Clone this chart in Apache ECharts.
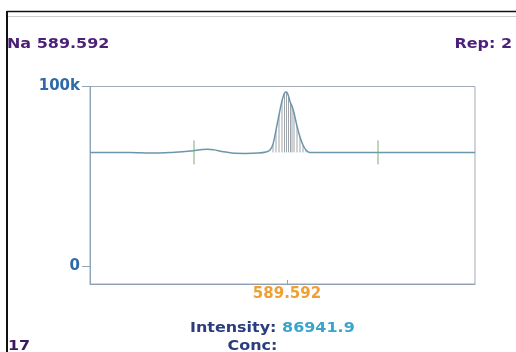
<!DOCTYPE html>
<html>
<head>
<meta charset="utf-8">
<script src="https://cdn.jsdelivr.net/npm/echarts@6/dist/echarts.min.js"></script>
<style>html,body{margin:0;padding:0;background:#fff}#c{width:516px;height:352px}</style>
</head>
<body>
<div id="c"></div>
<script>
// Wavelength (nm) of each trace point
var wavelengths = [589.4935,589.5035,589.5135,589.5235,589.5335,589.541,589.546,589.5495,589.5525,589.5555,589.5595,589.5645,589.571,589.5775,589.5815,589.5835,589.585,589.5865,589.588,589.5895,589.59075,589.59175,589.59275,589.59375,589.5945,589.5955,589.597,589.5985,589.6,589.6015,589.6035,589.6085,589.6185,589.6285,589.6385,589.6485,589.6635,589.6785,589.686];
// Intensity (counts) of each trace point
var intensities = [63400,63300,63300,63000,63300,63900,64400,65000,65200,64800,63900,63000,62800,63000,63600,64700,68000,75800,84200,92000,96400,96900,94700,90800,89200,85300,78000,71900,67500,64700,63300,63300,63300,63400,63400,63300,63300,63400,63400];
// Integration window markers (nm)
var markerWavelengths = [589.5455, 589.6375];
var baselineLevel = 63400;
var peakWindow = [589.585, 589.6015];
var centerWavelength = 589.592;
var yTicks = [0, 100000];
var yTickLabels = {0: '0', 100000: '100k'};
var title = 'Na 589.592';
var repText = 'Rep: 2';
var sampleNo = '17';
var intensityValue = '86941.9';

var FONT = 'DejaVu Sans';
var SX = 1.14;
var trace = wavelengths.map(function (w, i) { return [w, intensities[i]]; });
var hatch = trace.filter(function (p) { return p[0] >= peakWindow[0] && p[0] <= peakWindow[1]; });

var chart = echarts.init(document.getElementById('c'), null, {renderer: 'canvas'});
chart.setOption({
  animation: false,
  backgroundColor: '#fff',
  grid: {left: 90, right: 41, top: 86.5, bottom: 68, show: true, borderColor: '#a2abb4', borderWidth: 1},
  xAxis: {
    type: 'value', min: 589.4935, max: 589.686,
    axisLine: {onZero: false, lineStyle: {color: '#8ea0b2', width: 1}},
    axisTick: {customValues: [centerWavelength], inside: true, length: 4, lineStyle: {color: '#8ea0b2'}},
    axisLabel: {customValues: [centerWavelength], formatter: function () { return '589.592'; },
      color: '#f0a032', fontFamily: FONT, fontWeight: 'bold', fontSize: 15, margin: 3},
    splitLine: {show: false}
  },
  yAxis: {
    type: 'value', min: -9700, max: 100000,
    axisLine: {show: true, lineStyle: {color: '#8ea4b8', width: 1}},
    axisTick: {show: true, customValues: yTicks, length: 8, lineStyle: {color: '#8ea4b8'}},
    axisLabel: {customValues: yTicks, formatter: function (v) { return yTickLabels[v]; },
      color: '#2e6aa6', fontFamily: FONT, fontWeight: 'bold', fontSize: 15, margin: 10},
    splitLine: {show: false}
  },
  series: [
    {
      type: 'custom', data: hatch, silent: true, z: 1,
      renderItem: function (params, api) {
        var top = api.coord([api.value(0), api.value(1)]);
        var bot = api.coord([api.value(0), baselineLevel]);
        return {type: 'line', shape: {x1: top[0], y1: top[1], x2: bot[0], y2: bot[1]},
          style: {stroke: '#a0a5ac', lineWidth: 1}};
      }
    },
    {
      type: 'line', data: trace, symbol: 'none', smooth: 0.3, z: 3,
      lineStyle: {color: '#6c96ac', width: 1.5}
    },
    {
      type: 'custom', data: markerWavelengths.map(function (w) { return [w, baselineLevel]; }), silent: true, z: 4,
      renderItem: function (params, api) {
        var c = api.coord([api.value(0), api.value(1)]);
        return {type: 'line', shape: {x1: c[0], y1: c[1] - 12, x2: c[0], y2: c[1] + 12},
          style: {stroke: '#7fae72', lineWidth: 1}};
      }
    }
  ],
  graphic: [
    {type: 'line', shape: {x1: 7, y1: 11.5, x2: 516, y2: 11.5}, style: {stroke: '#111', lineWidth: 1.5}},
    {type: 'line', shape: {x1: 8, y1: 16.5, x2: 516, y2: 16.5}, style: {stroke: '#cccccc', lineWidth: 1}},
    {type: 'line', shape: {x1: 7, y1: 11, x2: 7, y2: 352}, style: {stroke: '#111', lineWidth: 2}},
    {type: 'text', x: 7, y: 44, scaleX: SX, style: {text: title, fill: '#4c1f78', verticalAlign: 'middle', font: 'bold 14px "DejaVu Sans"'}},
    {type: 'text', x: 512, y: 44, scaleX: SX, style: {text: repText, fill: '#4c1f78', align: 'right', verticalAlign: 'middle', font: 'bold 14px "DejaVu Sans"'}},
    {type: 'text', x: 8, y: 346, scaleX: SX, style: {text: sampleNo, fill: '#3b1a5c', verticalAlign: 'middle', font: 'bold 14px "DejaVu Sans"'}},
    {type: 'text', x: 190, y: 328, scaleX: SX, style: {
      text: '{a|Intensity: }{b|' + intensityValue + '}', verticalAlign: 'middle',
      rich: {a: {fill: '#2b3d80', font: 'bold 14px "DejaVu Sans"'}, b: {fill: '#38a6cc', font: 'bold 14px "DejaVu Sans"'}}
    }},
    {type: 'text', x: 252.5, y: 346, scaleX: SX, style: {text: 'Conc:', fill: '#2b3d80', align: 'center', verticalAlign: 'middle', font: 'bold 14px "DejaVu Sans"'}}
  ]
});
</script>
</body>
</html>
